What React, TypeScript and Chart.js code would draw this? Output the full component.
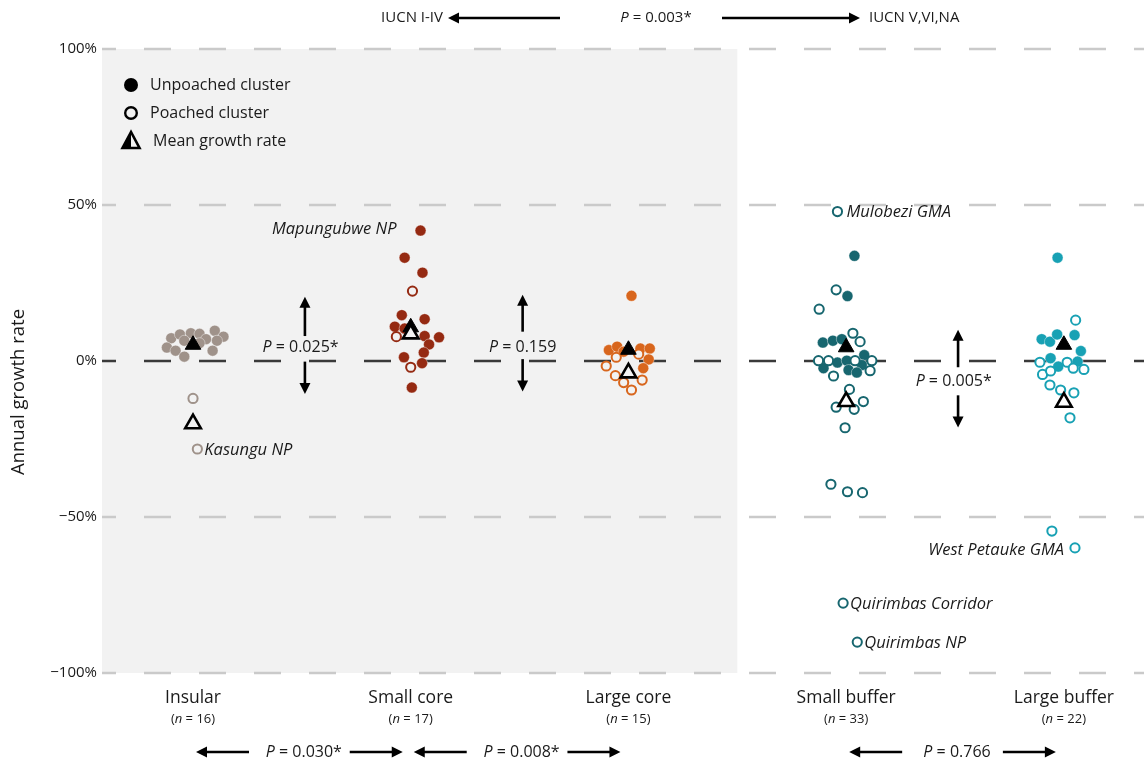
import React, { useEffect, useRef } from "react";
import { Chart, registerables } from "chart.js";
Chart.register(...registerables);

const FONT = "'Open Sans', sans-serif";
const TEXT = "#1a1a1a";

// ---- categories ----
const categories = ["Insular", "Small core", "Large core", "Small buffer", "Large buffer"];
const sampleSizes = [16, 17, 15, 33, 22];
const groupColors = ["#9f928a", "#952a12", "#d8661d", "#17666f", "#18a1b4"];
const openFills = ["#f2f2f2", "#f2f2f2", "#f2f2f2", "#ffffff", "#ffffff"];

// ---- annual growth rate (%) per cluster, with horizontal swarm offset (category units) ----
const insularUnpoached = [7.3, 8.5, 8.9, 8.7, 9.7, 7.8, 4.3, 3.3, 1.4, 6.5, 7.0, 6.5, 3.3, 5.7];
const insularUnpoachedJitter = [-0.10, -0.06, -0.01, 0.03, 0.10, 0.14, -0.12, -0.08, -0.04, -0.04, 0.06, 0.11, 0.09, 0.03];
const insularPoached = [-12.0, -28.2];
const insularPoachedJitter = [0.0, 0.02];

const smallCoreUnpoached = [41.8, 33.1, 28.3, 14.7, 13.4, 11.0, 10.4, 8.0, 7.6, 5.3, 2.7, 1.2, -0.7, -8.5];
const smallCoreUnpoachedJitter = [0.045, -0.028, 0.054, -0.041, 0.064, -0.073, -0.028, 0.064, 0.13, 0.084, 0.06, -0.031, 0.052, 0.005];
const smallCorePoached = [22.4, 7.8, -2.0];
const smallCorePoachedJitter = [0.008, -0.066, 0.0];

const largeCoreUnpoached = [20.9, 3.5, 4.6, 3.0, 4.0, 4.0, 0.5, -2.3];
const largeCoreUnpoachedJitter = [0.014, -0.09, -0.052, -0.022, 0.055, 0.098, 0.093, 0.068];
const largeCorePoached = [1.2, 2.2, -1.6, -4.7, -6.9, -9.3, -6.1];
const largeCorePoachedJitter = [-0.056, 0.047, -0.102, -0.06, -0.022, 0.014, 0.063];

const smallBufferUnpoached = [33.7, 20.8, 5.9, 6.5, 7.0, -0.5, 0.1, 1.9, -1.3, -2.3, -2.9, -3.7];
const smallBufferUnpoachedJitter = [0.038, 0.006, -0.107, -0.061, -0.02, -0.04, 0.003, 0.083, 0.072, -0.104, 0.011, 0.049];
const smallBufferPoached = [47.9, 22.8, 16.6, 8.9, 6.2, 0.1, 0.1, 0.1, 0.1, -3.1, -4.8, -9.1, -13.0, -14.8, -15.5, -21.4, -39.5, -41.9, -42.2, -77.6, -90.1];
const smallBufferPoachedJitter = [-0.04, -0.046, -0.124, 0.031, 0.064, -0.127, -0.081, 0.041, 0.118, 0.11, -0.058, 0.015, 0.079, -0.046, 0.037, -0.005, -0.07, 0.006, 0.075, -0.014, 0.051];

const largeBufferUnpoached = [33.1, 7.0, 6.2, 8.5, 8.3, 3.2, 0.9, -1.8, -0.2];
const largeBufferUnpoachedJitter = [-0.029, -0.102, -0.064, -0.031, 0.049, 0.078, -0.061, -0.026, 0.063];
const largeBufferPoached = [13.1, -0.4, -0.4, -2.3, -2.7, -4.3, -3.2, -7.7, -9.3, -10.2, -18.2, -54.5, -59.9];
const largeBufferPoachedJitter = [0.054, -0.11, 0.015, 0.043, 0.092, -0.098, -0.061, -0.064, -0.015, 0.046, 0.028, -0.055, 0.051];

// mean growth rates
const meanUnpoached = [5.2, 10.8, 3.6, 4.4, 5.2];
const meanPoached = [-20.1, 8.7, -3.8, -13.0, -13.2];

// axis
const yTicks = [100, 50, 0, -50, -100];
const protectedSplit = 2.5; // IUCN I-IV left of this

// tests
const withinPValues = ["0.025*", "0.159", "0.005*"];
const withinPairs = [[0, 1], [1, 2], [3, 4]];
const betweenPValues = ["0.030*", "0.008*", "0.766"];
const betweenPairs = [[0, 1], [1, 2], [3, 4]];
const iucnPValue = "0.003*";

// labelled clusters: [category, poached?, index, label]
const namedClusters: [number, boolean, number, string][] = [
  [0, true, 1, "Kasungu NP"],
  [1, false, 0, "Mapungubwe NP"],
  [3, true, 0, "Mulobezi GMA"],
  [4, true, 12, "West Petauke GMA"],
  [3, true, 19, "Quirimbas Corridor"],
  [3, true, 20, "Quirimbas NP"],
];

const unpoachedByCat = [insularUnpoached, smallCoreUnpoached, largeCoreUnpoached, smallBufferUnpoached, largeBufferUnpoached];
const unpoachedJitterByCat = [insularUnpoachedJitter, smallCoreUnpoachedJitter, largeCoreUnpoachedJitter, smallBufferUnpoachedJitter, largeBufferUnpoachedJitter];
const poachedByCat = [insularPoached, smallCorePoached, largeCorePoached, smallBufferPoached, largeBufferPoached];
const poachedJitterByCat = [insularPoachedJitter, smallCorePoachedJitter, largeCorePoachedJitter, smallBufferPoachedJitter, largeBufferPoachedJitter];

function arrow(ctx: CanvasRenderingContext2D, x1: number, y1: number, x2: number, y2: number) {
  const head = 11, hw = 5.5;
  const ang = Math.atan2(y2 - y1, x2 - x1);
  const bx = x2 - head * Math.cos(ang), by = y2 - head * Math.sin(ang);
  ctx.save();
  ctx.setLineDash([]);
  ctx.strokeStyle = "#000";
  ctx.fillStyle = "#000";
  ctx.lineWidth = 2.6;
  ctx.beginPath();
  ctx.moveTo(x1, y1);
  ctx.lineTo(bx + Math.cos(ang), by + Math.sin(ang));
  ctx.stroke();
  ctx.beginPath();
  ctx.moveTo(x2, y2);
  ctx.lineTo(bx - hw * Math.sin(ang), by + hw * Math.cos(ang));
  ctx.lineTo(bx + hw * Math.sin(ang), by - hw * Math.cos(ang));
  ctx.closePath();
  ctx.fill();
  ctx.restore();
}

type Run = { t: string; i?: boolean };
function runs(ctx: CanvasRenderingContext2D, parts: Run[], x: number, y: number, size: number, align: "left" | "center" | "right") {
  const widths = parts.map((p) => {
    ctx.font = `${p.i ? "italic " : ""}${size}px ${FONT}`;
    return ctx.measureText(p.t).width;
  });
  const total = widths.reduce((a, b) => a + b, 0);
  let x0 = align === "left" ? x : align === "center" ? x - total / 2 : x - total;
  ctx.textAlign = "left";
  ctx.textBaseline = "middle";
  ctx.fillStyle = TEXT;
  parts.forEach((p, k) => {
    ctx.font = `${p.i ? "italic " : ""}${size}px ${FONT}`;
    ctx.fillText(p.t, x0, y);
    x0 += widths[k];
  });
}

const decor = {
  id: "decor",
  beforeDatasetsDraw(chart: any) {
    const { ctx, chartArea: a, scales } = chart;
    const x = scales.x, y = scales.y;
    ctx.save();
    const xs = x.getPixelForValue(protectedSplit);
    const yt = y.getPixelForValue(100), yb = y.getPixelForValue(-100);
    ctx.fillStyle = "#f2f2f2";
    ctx.fillRect(a.left, yt, xs - a.left, yb - yt);
    ctx.setLineDash([27, 28]);
    ctx.lineDashOffset = 13;
    yTicks.forEach((v) => {
      const py = Math.round(y.getPixelForValue(v));
      ctx.strokeStyle = v === 0 ? "#3a3a3a" : "#cacaca";
      ctx.lineWidth = 2.5;
      ctx.beginPath();
      ctx.moveTo(a.left, py);
      ctx.lineTo(a.right, py);
      ctx.stroke();
    });
    ctx.restore();

    // within-group tests (vertical arrows)
    ctx.save();
    const vcfg = [
      { up: [8, 20.6], down: [-0.2, -10.6], text: 4.2, dx: -0.02 },
      { up: [9.4, 21.2], down: [0.6, -9.8], text: 4.5, dx: 0.0 },
      { up: [-2.0, 10.0], down: [-11.0, -21.3], text: -6.4, dx: -0.02 },
    ];
    withinPairs.forEach((pr, k) => {
      const c = vcfg[k];
      const xv = x.getPixelForValue((pr[0] + pr[1]) / 2 + 0.014);
      arrow(ctx, xv, y.getPixelForValue(c.up[0]), xv, y.getPixelForValue(c.up[1]));
      arrow(ctx, xv, y.getPixelForValue(c.down[0]), xv, y.getPixelForValue(c.down[1]));
      const tx = x.getPixelForValue((pr[0] + pr[1]) / 2 + 0.014 + c.dx);
      const ty = y.getPixelForValue(c.text);
      runs(ctx, [{ t: "P", i: true }, { t: " = " + withinPValues[k] }], tx, ty, 16, "center");
    });
    ctx.restore();
  },
  afterDatasetsDraw(chart: any) {
    const { ctx, scales } = chart;
    const x = scales.x, y = scales.y;
    ctx.save();
    ctx.setLineDash([]);

    // named clusters
    namedClusters.forEach(([c, poached, idx, label]) => {
      const vals = poached ? poachedByCat[c] : unpoachedByCat[c];
      const jit = poached ? poachedJitterByCat[c] : unpoachedJitterByCat[c];
      const px = x.getPixelForValue(c + jit[idx]);
      const py = y.getPixelForValue(vals[idx]);
      let tx = px + 7, align: "left" | "right" = "left", ty = py + 1;
      if (label === "Mapungubwe NP") { tx = px - 24; align = "right"; ty = py - 1; }
      if (label === "West Petauke GMA") { tx = px - 11; align = "right"; ty = py + 2; }
      if (label === "Mulobezi GMA") { tx = px + 9; ty = py + 1; }
      runs(ctx, [{ t: label, i: true }], tx, ty, 16.5, align);
    });

    // legend
    ctx.fillStyle = "#000";
    ctx.beginPath();
    ctx.arc(131, 85, 7, 0, Math.PI * 2);
    ctx.fill();
    ctx.strokeStyle = "#000";
    ctx.lineWidth = 2.4;
    ctx.beginPath();
    ctx.arc(131, 113, 5.8, 0, Math.PI * 2);
    ctx.stroke();
    ctx.beginPath();
    ctx.moveTo(131, 132);
    ctx.lineTo(122, 148);
    ctx.lineTo(131, 148);
    ctx.closePath();
    ctx.fill();
    ctx.beginPath();
    ctx.moveTo(131, 132);
    ctx.lineTo(122.5, 148);
    ctx.lineTo(139.5, 148);
    ctx.closePath();
    ctx.lineWidth = 2.6;
    ctx.lineJoin = "miter";
    ctx.stroke();
    runs(ctx, [{ t: "Unpoached cluster" }], 150, 85, 16, "left");
    runs(ctx, [{ t: "Poached cluster" }], 150, 113, 16, "left");
    runs(ctx, [{ t: "Mean growth rate" }], 153, 141, 16, "left");

    // category labels
    categories.forEach((c, k) => {
      const cx = x.getPixelForValue(k);
      runs(ctx, [{ t: c }], cx, 698, 17.5, "center");
      runs(ctx, [{ t: "(" }, { t: "n", i: true }, { t: " = " + sampleSizes[k] + ")" }], cx, 719, 13, "center");
    });

    // between-group tests (bottom)
    betweenPairs.forEach((pr, k) => {
      const x1 = x.getPixelForValue(pr[0]);
      const x2 = x.getPixelForValue(pr[1]);
      const by = 752;
      arrow(ctx, x1 + 56, by, x1 + 3, by);
      arrow(ctx, x2 - 61, by, x2 - 8, by);
      runs(ctx, [{ t: "P", i: true }, { t: " = " + betweenPValues[k] }], (x1 + x2) / 2 + 2, by, 16, "center");
    });

    // IUCN header
    const hy = 18;
    runs(ctx, [{ t: "IUCN I-IV" }], 443, hy, 15, "right");
    arrow(ctx, 560, hy, 448, hy);
    runs(ctx, [{ t: "P", i: true }, { t: " = " + iucnPValue }], 656, hy, 15, "center");
    arrow(ctx, 722, hy, 860, hy);
    runs(ctx, [{ t: "IUCN V,VI,NA" }], 869, hy, 15, "left");

    // y title
    ctx.save();
    ctx.translate(19, 392);
    ctx.rotate(-Math.PI / 2);
    ctx.font = `18.5px ${FONT}`;
    ctx.fillStyle = TEXT;
    ctx.textAlign = "center";
    ctx.textBaseline = "middle";
    ctx.fillText("Annual growth rate", 0, 0);
    ctx.restore();

    ctx.restore();
  },
};

export default function App() {
  const ref = useRef<HTMLCanvasElement | null>(null);
  useEffect(() => {
    if (!ref.current) return;
    const datasets: any[] = [];
    categories.forEach((c, k) => {
      datasets.push({
        label: c + " unpoached",
        data: unpoachedByCat[k].map((v, i) => ({ x: k + unpoachedJitterByCat[k][i], y: v })),
        pointRadius: 5.5,
        pointBackgroundColor: groupColors[k],
        pointBorderColor: "rgba(255,255,255,0.5)",
        pointBorderWidth: 0.8,
        showLine: false,
        order: 3,
      });
      datasets.push({
        label: c + " poached",
        data: poachedByCat[k].map((v, i) => ({ x: k + poachedJitterByCat[k][i], y: v })),
        pointRadius: 4.6,
        pointBackgroundColor: openFills[k],
        pointBorderColor: groupColors[k],
        pointBorderWidth: 2,
        showLine: false,
        order: 2,
      });
    });
    datasets.push({
      label: "Mean unpoached",
      data: meanUnpoached.map((v, k) => ({ x: k, y: v })),
      pointStyle: "triangle",
      pointRadius: 9,
      pointBackgroundColor: "#000",
      pointBorderColor: "#000",
      pointBorderWidth: 1,
      showLine: false,
      order: 1,
    });
    datasets.push({
      label: "Mean poached",
      data: meanPoached.map((v, k) => ({ x: k, y: v })),
      pointStyle: "triangle",
      pointRadius: 9,
      pointBackgroundColor: (ctx: any) => openFills[ctx.dataIndex] || "#fff",
      pointBorderColor: "#000",
      pointBorderWidth: 2.6,
      showLine: false,
      order: 0,
    });

    const chart = new Chart(ref.current, {
      type: "scatter",
      data: { datasets },
      options: {
        animation: false,
        responsive: false,
        devicePixelRatio: 1,
        layout: { autoPadding: false, padding: { top: 49, bottom: 91, left: 0, right: 0 } },
        plugins: { legend: { display: false }, tooltip: { enabled: false } },
        scales: {
          x: { type: "linear", min: -0.418, max: 4.368, display: false },
          y: {
            type: "linear",
            min: -100,
            max: 100,
            grid: { display: false, drawTicks: false },
            border: { display: false },
            ticks: {
              stepSize: 50,
              padding: 5,
              color: TEXT,
              font: { family: FONT, size: 15 },
              callback: (v: any) => (v < 0 ? "\u2212" + Math.abs(v) + "%" : v + "%"),
            },
            afterFit: (s: any) => {
              s.width = 102;
            },
          },
        },
      },
      plugins: [decor],
    } as any);
    return () => chart.destroy();
  }, []);
  return (
    <div style={{ position: "absolute", left: 0, top: 0, width: 1144, height: 764, background: "#fff" }}>
      <canvas ref={ref} width={1144} height={764} style={{ display: "block" }} />
    </div>
  );
}
